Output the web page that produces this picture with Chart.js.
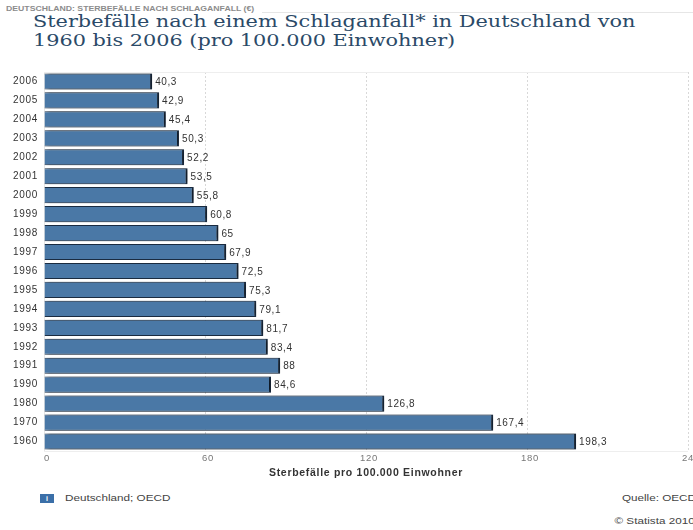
<!DOCTYPE html>
<html>
<head>
<meta charset="utf-8">
<script src="https://cdn.jsdelivr.net/npm/chart.js@4/dist/chart.umd.min.js"></script>
<style>
  body { margin: 0; width: 693px; height: 530px; overflow: hidden; background: #fff; font-family: "Liberation Sans", Arial, sans-serif; position: relative; }
  .kopf { position: absolute; left: 6px; top: 5px; font-size: 7px; font-weight: bold; color: #8c8c8c; white-space: nowrap; transform: scaleX(1.24); transform-origin: left top; }
  .kopflinie { position: absolute; left: 262px; right: 0; top: 12px; border-top: 1px solid #e6e6e6; }
  .titel { position: absolute; left: 33px; top: 12px; font-family: "DejaVu Serif", Georgia, serif; font-size: 16px; line-height: 19px; color: #2b4a68; white-space: nowrap; transform: scaleX(1.3); transform-origin: left top; }
  .box { position: absolute; left: 0; top: 60px; width: 712px; height: 419px; }
  .info { position: absolute; left: 40px; top: 494px; width: 14px; height: 9px; background: #3b6fa8; color: #fff; font-size: 7px; text-align: center; line-height: 9px; font-weight: bold; }
  .fuss { position: absolute; font-size: 9px; color: #444; white-space: nowrap; transform: scaleX(1.3); }
  .quelle1 { left: 65px; top: 493px; transform-origin: left top; }
  .quelle2 { right: -3px; top: 493px; transform-origin: right top; }
  .copy { right: -2px; top: 516px; transform-origin: right top; }
</style>
</head>
<body>
<div class="kopf">DEUTSCHLAND: STERBEFÄLLE NACH SCHLAGANFALL (€)</div>
<div class="kopflinie"></div>
<div class="titel">Sterbefälle nach einem Schlaganfall* in Deutschland von<br>1960 bis 2006 (pro 100.000 Einwohner)</div>
<div class="box"><canvas id="grafik"></canvas></div>
<div class="info">i</div>
<div class="fuss quelle1">Deutschland; OECD</div>
<div class="fuss quelle2">Quelle: OECD</div>
<div class="fuss copy">© Statista 2010</div>
<script>
// Daten
const jahre = ['2006', '2005', '2004', '2003', '2002', '2001', '2000', '1999', '1998', '1997',
  '1996', '1995', '1994', '1993', '1992', '1991', '1990', '1980', '1970', '1960'];
const sterbefaelle = [40.3, 42.9, 45.4, 50.3, 52.2, 53.5, 55.8, 60.8, 65, 67.9,
  72.5, 75.3, 79.1, 81.7, 83.4, 88, 84.6, 126.8, 167.4, 198.3];
const xTicks = [0, 60, 120, 180, 240];

const schrift = '"Liberation Sans", Arial, sans-serif';

// etwas breitere Schrift wie im Original
const sperren = {
  id: 'sperren',
  beforeDraw(chart) { chart.ctx.letterSpacing = '0.7px'; }
};

// heller Rahmen oben/unten
const rahmen = {
  id: 'rahmen',
  beforeDatasetsDraw(chart) {
    const { ctx, chartArea: a } = chart;
    ctx.save();
    ctx.strokeStyle = '#eeeeee';
    ctx.lineWidth = 1;
    ctx.beginPath();
    ctx.moveTo(a.left, a.top + 0.5);
    ctx.lineTo(a.right, a.top + 0.5);
    ctx.moveTo(a.left, a.bottom + 0.5);
    ctx.lineTo(a.right, a.bottom + 0.5);
    ctx.stroke();
    ctx.restore();
  }
};

// Schatten hinter den Balken
const schatten = {
  id: 'schatten',
  beforeDatasetsDraw(chart) {
    const ctx = chart.ctx;
    ctx.save();
    ctx.shadowColor = 'rgba(0,0,0,0.45)';
    ctx.shadowOffsetX = 3;
    ctx.shadowOffsetY = 0;
    ctx.shadowBlur = 3;
  },
  afterDatasetsDraw(chart) {
    chart.ctx.restore();
  }
};

// Werte neben den Balken
const werte = {
  id: 'werte',
  afterDatasetsDraw(chart) {
    const ctx = chart.ctx;
    const meta = chart.getDatasetMeta(0);
    ctx.save();
    ctx.font = '10px ' + schrift;
    ctx.letterSpacing = '0.6px';
    ctx.fillStyle = '#333';
    ctx.textBaseline = 'middle';
    meta.data.forEach((bar, i) => {
      const txt = String(sterbefaelle[i]).replace('.', ',');
      ctx.fillText(txt, bar.x + 3, bar.y + 1);
    });
    ctx.restore();
  }
};

new Chart(document.getElementById('grafik'), {
  type: 'bar',
  data: {
    labels: jahre,
    datasets: [{
      data: sterbefaelle,
      backgroundColor: '#4a78a6',
      borderColor: '#1e3148',
      borderWidth: { top: 1, right: 2, bottom: 1, left: 0 },
      borderSkipped: false,
      barPercentage: 0.85,
      categoryPercentage: 1
    }]
  },
  options: {
    indexAxis: 'y',
    responsive: true,
    maintainAspectRatio: false,
    animation: false,
    layout: { padding: { left: 0, right: 24, top: 4, bottom: 0 } },
    plugins: { legend: { display: false }, tooltip: { enabled: false } },
    scales: {
      x: {
        min: 0,
        max: 240,
        afterBuildTicks(axis) { axis.ticks = xTicks.map(v => ({ value: v })); },
        ticks: { color: '#777', font: { size: 9.5, family: schrift }, padding: 2, labelOffset: 3 },
        grid: { color: '#d8d8d8', drawTicks: false },
        border: { display: false, dash: [2, 2] },
        title: {
          display: true,
          text: 'Sterbefälle pro 100.000 Einwohner',
          color: '#333',
          font: { size: 10.5, weight: 'bold', family: schrift },
          padding: { top: 0, bottom: 0 }
        }
      },
      y: {
        afterFit(axis) { axis.width = 44; },
        ticks: { color: '#333', font: { size: 10, family: schrift }, padding: 6 },
        grid: { display: false, drawTicks: false },
        border: { color: '#e6e6e6' }
      }
    }
  },
  plugins: [sperren, rahmen, schatten, werte]
});
</script>
</body>
</html>
